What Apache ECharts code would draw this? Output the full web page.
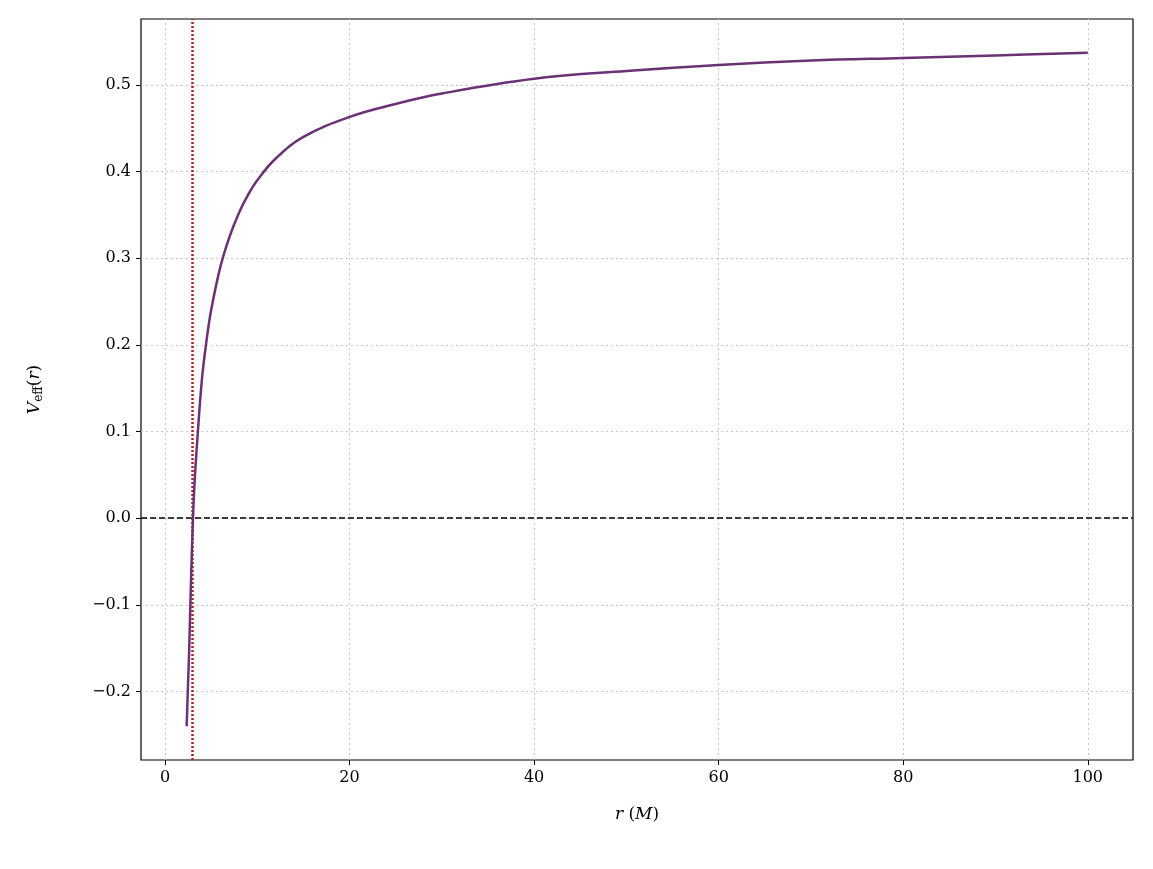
<!DOCTYPE html>
<html><head><meta charset="utf-8">
<script src="https://cdn.jsdelivr.net/npm/echarts@6/dist/echarts.min.js"></script>
<style>html,body{margin:0;padding:0;background:#fff}#c{width:1153px;height:869px}</style>
</head><body><div id="c"></div>
<script>
const rValues = [2.35,2.5,2.6,2.8,3.0,3.2,3.5,4,4.5,5,6,7,8,9,10,12,15,20,25,30,40,50,60,70,80,90,100];
const vValues = [-0.24,-0.19,-0.16,-0.08,-0.01,0.04,0.09,0.16,0.205,0.24,0.29,0.325,0.352,0.373,0.39,0.415,0.44,0.463,0.478,0.49,0.507,0.516,0.523,0.528,0.531,0.534,0.537];
const xTicks = [0,20,40,60,80,100];
const yTicks = [-0.2,-0.1,0,0.1,0.2,0.3,0.4,0.5];
const photonSphere = 3;

const F = 'DejaVu Serif';
const fmtY = v => (v < 0 ? '\u2212' : '') + Math.abs(v).toFixed(1);
const gridStyle = {color:'#c8c8c8', type:[2,3], width:1};
const gridLines = xTicks.map(x=>({xAxis:x})).concat(yTicks.map(y=>({yAxis:y})));

const chart = echarts.init(document.getElementById('c'));
chart.setOption({
  animation:false,
  grid:{left:141,right:20,top:19,bottom:109, show:true, borderColor:'#000', borderWidth:1.2, backgroundColor:'transparent'},
  xAxis:{
    type:'value', min:-2.6, max:104.9,
    axisLine:{show:false, onZero:false},
    axisTick:{show:true, customValues:xTicks, length:5, lineStyle:{color:'#000'}},
    axisLabel:{customValues:xTicks, color:'#000', fontFamily:F, fontSize:16, margin:10},
    splitLine:{show:false},
    name:'{i|r} ({i|M})', nameLocation:'middle', nameGap:46,
    nameTextStyle:{fontFamily:F, fontSize:17, color:'#000', rich:{i:{fontStyle:'italic',fontFamily:F,fontSize:17}}}
  },
  yAxis:{
    type:'value', min:-0.279, max:0.576,
    axisLine:{show:false, onZero:false},
    axisTick:{show:true,customValues:yTicks, length:5, lineStyle:{color:'#000'}},
    axisLabel:{customValues:yTicks, formatter:fmtY, color:'#000', fontFamily:F, fontSize:16, margin:10},
    splitLine:{show:false},
    name:'{i|V}{s|eff}({i|r})', nameLocation:'middle', nameGap:96, nameRotate:90,
    nameTextStyle:{fontFamily:F, fontSize:17, color:'#000', rich:{i:{fontStyle:'italic',fontFamily:F,fontSize:17},s:{fontFamily:F,fontSize:12,padding:[8,0,0,0]}}}
  },
  series:[{
    type:'line', data:[], silent:true,
    markLine:{symbol:'none', silent:true, label:{show:false}, lineStyle:gridStyle, data:gridLines}
  },{
    type:'line', data:rValues.map((r,i)=>[r,vValues[i]]), smooth:0.4, showSymbol:false,
    lineStyle:{color:'#6b3175', width:2.5}, z:5,
    markLine:{symbol:'none', silent:true, label:{show:false}, data:[
      {yAxis:0, lineStyle:{color:'#000', type:[6,3], width:1.5}},
      {xAxis:photonSphere, lineStyle:{color:'#b22020', type:[2,2], width:2.5}}
    ]}
  }]
});
</script></body></html>
